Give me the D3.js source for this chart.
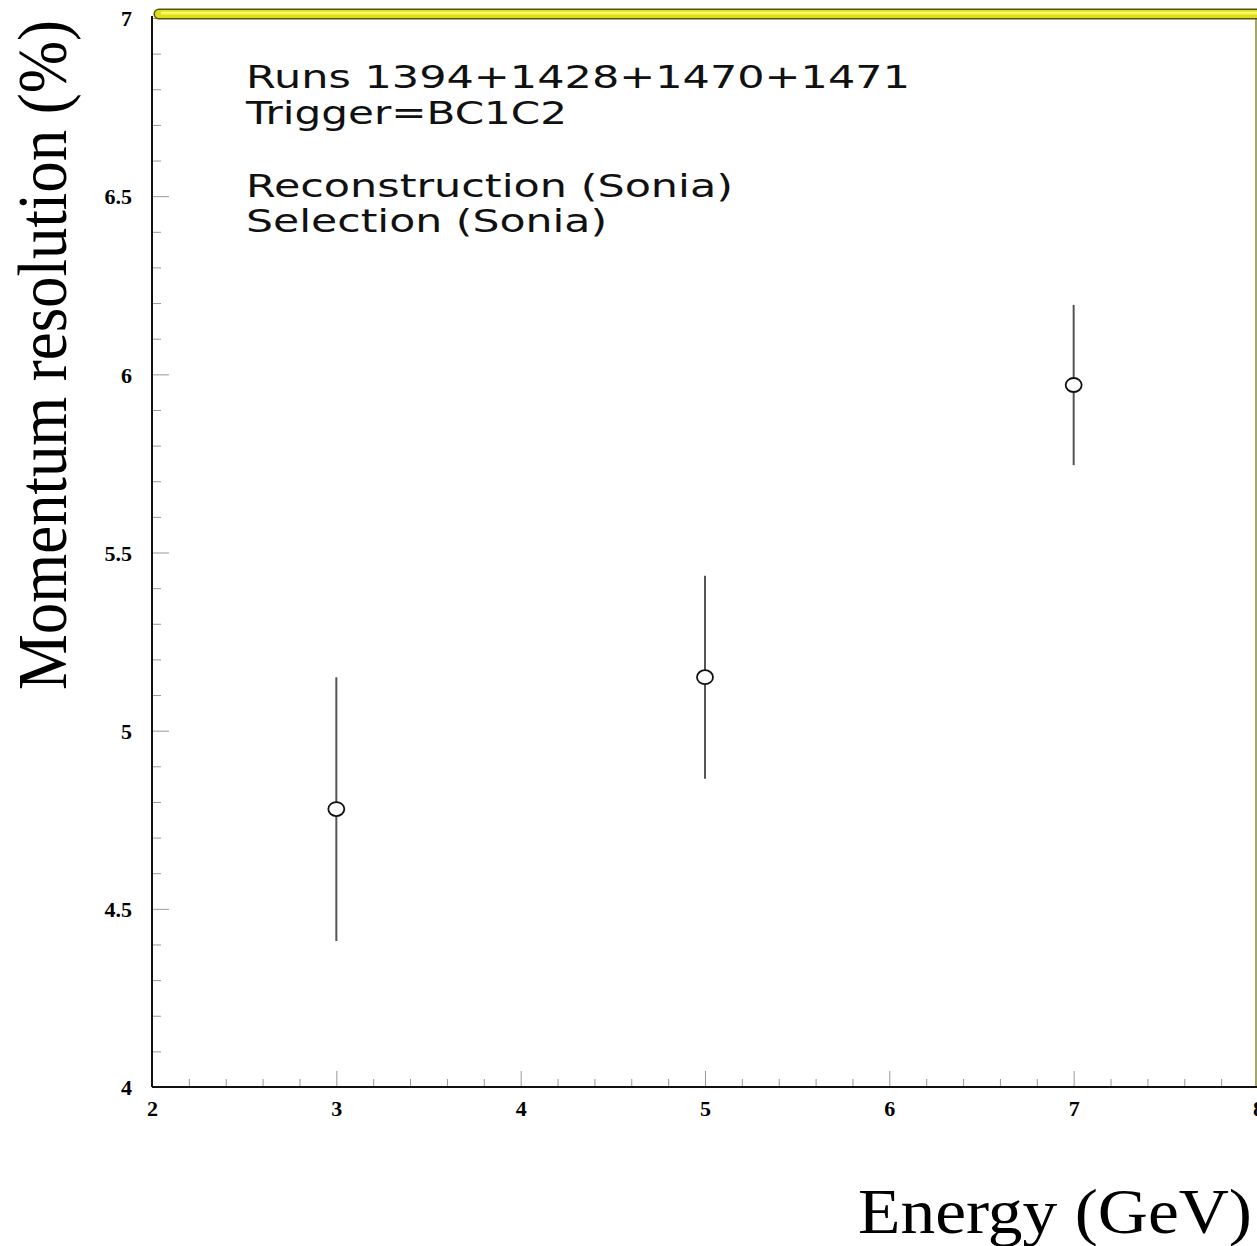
<html>
<head>
<meta charset="utf-8"/>
<script src="https://d3js.org/d3.v7.min.js"></script>
<style>
  body { margin: 0; background: #fff; }
  .tick text { font-family: "Liberation Serif", "Times New Roman", serif; font-weight: bold; font-size: 22px; fill: #000; }
</style>
</head>
<body>
<div id="v"></div>
<script type="text/javascript">
(function() {

  // data
  var energy = [3, 5, 7];
  var resolution = [4.78, 5.15, 5.97];
  var resErr = [0.37, 0.285, 0.225];
  var xMajor = [2, 3, 4, 5, 6, 7, 8];
  var yMajor = [4, 4.5, 5, 5.5, 6, 6.5, 7];
  var yLabels = ["4", "4.5", "5", "5.5", "6", "6.5", "7"];
  var notes = ["Runs 1394+1428+1470+1471", "Trigger=BC1C2", "", "Reconstruction (Sonia)", "Selection (Sonia)"];

  var width = 1257, height = 1246;
  var left = 152, right = 1258, top = 18, bottom = 1087;

  var svg = d3.select("#v").append("svg")
    .attr("width", width)
    .attr("height", height);

  var x = d3.scaleLinear().domain([2, 8]).range([left, right]);
  var y = d3.scaleLinear().domain([4, 7]).range([bottom, top]);

  var xMinor = d3.range(2, 8.001, 0.2).filter(function(v) { return Math.abs(v - Math.round(v)) > 0.01; });
  var yMinor = d3.range(4, 7.001, 0.1).filter(function(v) { return Math.abs(v * 2 - Math.round(v * 2)) > 0.01; });

  // right frame
  svg.append("line")
    .attr("x1", 1256).attr("x2", 1256).attr("y1", top).attr("y2", bottom)
    .attr("stroke", "#8a8a30").attr("stroke-width", 1.5);

  // minor ticks
  svg.append("g")
    .attr("transform", "translate(0," + bottom + ")")
    .call(d3.axisBottom(x).tickValues(xMinor).tickSize(-8).tickFormat(""))
    .call(function(g) { g.select(".domain").remove(); g.selectAll("line").attr("stroke", "#999"); });
  svg.append("g")
    .attr("transform", "translate(" + left + ",0)")
    .call(d3.axisLeft(y).tickValues(yMinor).tickSize(-9).tickFormat(""))
    .call(function(g) { g.select(".domain").remove(); g.selectAll("line").attr("stroke", "#999"); });

  // major ticks + labels
  var xAxis = svg.append("g")
    .attr("transform", "translate(0," + bottom + ")")
    .call(d3.axisBottom(x).tickValues(xMajor).tickSize(-16).tickFormat(d3.format("d")));
  xAxis.select(".domain").remove();
  xAxis.selectAll("line").attr("stroke", "#999");
  xAxis.selectAll("text").attr("y", 29).attr("dy", 0);

  var yAxis = svg.append("g")
    .attr("transform", "translate(" + left + ",0)")
    .call(d3.axisLeft(y).tickValues(yMajor).tickSize(-17).tickFormat(function(d, i) { return yLabels[i]; }));
  yAxis.select(".domain").remove();
  yAxis.selectAll("line").attr("stroke", "#999");
  yAxis.selectAll("text").attr("x", -20).attr("dy", "0.35em");

  // axis lines
  svg.append("line")
    .attr("x1", left).attr("x2", width).attr("y1", bottom).attr("y2", bottom)
    .attr("stroke", "#111").attr("stroke-width", 2);
  svg.append("line")
    .attr("x1", left).attr("x2", left).attr("y1", top - 2).attr("y2", bottom)
    .attr("stroke", "#111").attr("stroke-width", 2);

  // yellow top bar
  svg.append("line")
    .attr("x1", 159).attr("x2", width + 6).attr("y1", 14).attr("y2", 14)
    .attr("stroke", "#55550c").attr("stroke-width", 11).attr("stroke-linecap", "round");
  svg.append("line")
    .attr("x1", 159).attr("x2", width + 6).attr("y1", 14).attr("y2", 14)
    .attr("stroke", "#dede1c").attr("stroke-width", 8).attr("stroke-linecap", "round");
  svg.append("line")
    .attr("x1", 161).attr("x2", width + 6).attr("y1", 13).attr("y2", 13)
    .attr("stroke", "#f8f860").attr("stroke-width", 3);

  // error bars
  svg.selectAll(".err")
    .data(energy).enter()
    .append("line")
    .attr("class", "err")
    .attr("x1", function(d) { return x(d); })
    .attr("x2", function(d) { return x(d); })
    .attr("y1", function(d, i) { return y(resolution[i] + resErr[i]); })
    .attr("y2", function(d, i) { return y(resolution[i] - resErr[i]); })
    .attr("stroke", "#555").attr("stroke-width", 2);

  // open markers
  svg.selectAll(".pt")
    .data(energy).enter()
    .append("ellipse")
    .attr("class", "pt")
    .attr("cx", function(d) { return x(d); })
    .attr("cy", function(d, i) { return y(resolution[i]); })
    .attr("rx", 8).attr("ry", 7)
    .attr("fill", "#fff").attr("stroke", "#111").attr("stroke-width", 1.8);

  // annotation block
  var noteBase = [88, 124, 160, 197, 232];
  var noteLen = [664, 321, 0, 487, 361];
  svg.selectAll(".note")
    .data(notes).enter()
    .append("text")
    .attr("class", "note")
    .attr("x", 246)
    .attr("y", function(d, i) { return noteBase[i]; })
    .attr("textLength", function(d, i) { return noteLen[i] || null; })
    .attr("lengthAdjust", "spacingAndGlyphs")
    .style("font-family", "'DejaVu Sans', sans-serif")
    .style("font-size", "32px")
    .style("fill", "#111")
    .text(function(d) { return d; });

  // axis titles
  svg.append("text")
    .attr("transform", "translate(66,690) rotate(-90)")
    .attr("textLength", 670)
    .attr("lengthAdjust", "spacingAndGlyphs")
    .style("font-family", "'Liberation Serif', 'Times New Roman', serif")
    .style("font-size", "70px")
    .text("Momentum resolution (%)");

  svg.append("text")
    .attr("x", 858).attr("y", 1233)
    .attr("textLength", 394)
    .attr("lengthAdjust", "spacingAndGlyphs")
    .style("font-family", "'Liberation Serif', 'Times New Roman', serif")
    .style("font-size", "63px")
    .text("Energy (GeV)");

})();
</script>
</body>
</html>
